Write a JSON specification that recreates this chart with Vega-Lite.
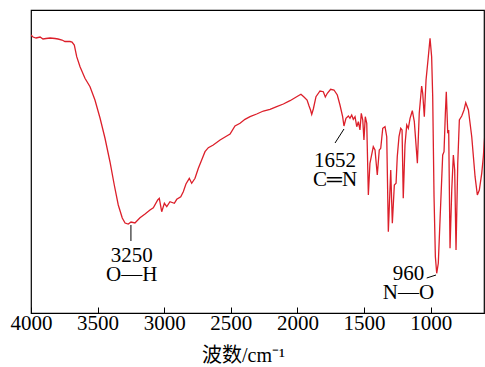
{
  "$schema": "https://vega.github.io/schema/vega-lite/v6.json",
  "autosize": {"type": "none"},
  "width": 453,
  "height": 303,
  "padding": {"left": 31, "top": 10, "right": 1, "bottom": 54},
  "config": {
    "view": {"stroke": "black", "strokeWidth": 1.2},
    "axis": {"grid": false}
  },
  "datasets": {
    "spectrum": [
      {"wn": 4000, "t": 278}, {"wn": 3985, "t": 276}, {"wn": 3962, "t": 275}, {"wn": 3932, "t": 276},
      {"wn": 3910, "t": 274}, {"wn": 3887, "t": 274.5}, {"wn": 3857, "t": 275}, {"wn": 3820, "t": 274.5},
      {"wn": 3797, "t": 274}, {"wn": 3767, "t": 273}, {"wn": 3745, "t": 271.5}, {"wn": 3707, "t": 271.5},
      {"wn": 3692, "t": 271}, {"wn": 3675, "t": 268}, {"wn": 3657, "t": 256.3}, {"wn": 3632, "t": 246.3},
      {"wn": 3595, "t": 234.7}, {"wn": 3557, "t": 226.3}, {"wn": 3520, "t": 213}, {"wn": 3482, "t": 195},
      {"wn": 3445, "t": 175}, {"wn": 3407, "t": 151}, {"wn": 3375, "t": 128}, {"wn": 3345, "t": 108},
      {"wn": 3315, "t": 95}, {"wn": 3294, "t": 90}, {"wn": 3270, "t": 89}, {"wn": 3249, "t": 91},
      {"wn": 3220, "t": 90}, {"wn": 3182, "t": 95.3}, {"wn": 3144, "t": 99}, {"wn": 3107, "t": 103},
      {"wn": 3082, "t": 105.3}, {"wn": 3049, "t": 113}, {"wn": 3037, "t": 114.7}, {"wn": 3019, "t": 101.3},
      {"wn": 2999, "t": 109.7}, {"wn": 2981, "t": 106.3}, {"wn": 2957, "t": 111.3}, {"wn": 2924, "t": 109.7},
      {"wn": 2906, "t": 113.7}, {"wn": 2876, "t": 116.3}, {"wn": 2857, "t": 121.3}, {"wn": 2837, "t": 129},
      {"wn": 2812, "t": 134.7}, {"wn": 2794, "t": 129.7}, {"wn": 2769, "t": 134.7}, {"wn": 2744, "t": 144.7},
      {"wn": 2719, "t": 153}, {"wn": 2694, "t": 161.3}, {"wn": 2669, "t": 165.3}, {"wn": 2632, "t": 168},
      {"wn": 2581, "t": 173}, {"wn": 2531, "t": 177}, {"wn": 2506, "t": 179}, {"wn": 2469, "t": 187},
      {"wn": 2431, "t": 189.7}, {"wn": 2394, "t": 193.7}, {"wn": 2356, "t": 196.3}, {"wn": 2306, "t": 199},
      {"wn": 2256, "t": 202}, {"wn": 2206, "t": 203.7}, {"wn": 2156, "t": 206.3}, {"wn": 2106, "t": 209},
      {"wn": 2056, "t": 212.3}, {"wn": 2006, "t": 216.3}, {"wn": 1974, "t": 218.7}, {"wn": 1951, "t": 216},
      {"wn": 1928, "t": 213}, {"wn": 1913, "t": 207}, {"wn": 1902, "t": 203}, {"wn": 1893, "t": 198.7},
      {"wn": 1881, "t": 204}, {"wn": 1861, "t": 216.3}, {"wn": 1831, "t": 222}, {"wn": 1806, "t": 221.3},
      {"wn": 1791, "t": 216}, {"wn": 1776, "t": 219.7}, {"wn": 1751, "t": 223.7}, {"wn": 1726, "t": 223},
      {"wn": 1701, "t": 218}, {"wn": 1681, "t": 208}, {"wn": 1661, "t": 196.3}, {"wn": 1651, "t": 187},
      {"wn": 1636, "t": 194.7}, {"wn": 1618, "t": 197}, {"wn": 1606, "t": 194.7}, {"wn": 1593, "t": 198},
      {"wn": 1581, "t": 193.7}, {"wn": 1568, "t": 196.3}, {"wn": 1555, "t": 186.3}, {"wn": 1543, "t": 191.3},
      {"wn": 1531, "t": 183}, {"wn": 1521, "t": 199.7}, {"wn": 1510, "t": 193}, {"wn": 1501, "t": 173},
      {"wn": 1491, "t": 196.3}, {"wn": 1480, "t": 189.7}, {"wn": 1468, "t": 118}, {"wn": 1456, "t": 149.7},
      {"wn": 1431, "t": 166.3}, {"wn": 1418, "t": 163}, {"wn": 1401, "t": 138}, {"wn": 1386, "t": 163},
      {"wn": 1375, "t": 164.7}, {"wn": 1360, "t": 184.7}, {"wn": 1343, "t": 186.3}, {"wn": 1330, "t": 176.3},
      {"wn": 1318, "t": 81.3}, {"wn": 1300, "t": 143}, {"wn": 1288, "t": 89.7}, {"wn": 1273, "t": 128},
      {"wn": 1260, "t": 129.7}, {"wn": 1251, "t": 156.3}, {"wn": 1238, "t": 176.3}, {"wn": 1225, "t": 184.7},
      {"wn": 1215, "t": 183}, {"wn": 1206, "t": 114.7}, {"wn": 1193, "t": 168}, {"wn": 1180, "t": 188},
      {"wn": 1168, "t": 184.7}, {"wn": 1155, "t": 194.7}, {"wn": 1138, "t": 202.3}, {"wn": 1123, "t": 191.3},
      {"wn": 1100, "t": 149.7}, {"wn": 1086, "t": 199.7}, {"wn": 1068, "t": 227}, {"wn": 1060, "t": 219.7},
      {"wn": 1048, "t": 196.3}, {"wn": 1035, "t": 233}, {"wn": 1018, "t": 256.3}, {"wn": 1005, "t": 274.7},
      {"wn": 993, "t": 256.3}, {"wn": 985, "t": 216.3}, {"wn": 975, "t": 116.3}, {"wn": 965, "t": 56.3},
      {"wn": 955, "t": 39.7}, {"wn": 943, "t": 49.7}, {"wn": 930, "t": 93}, {"wn": 910, "t": 158},
      {"wn": 900, "t": 161.3}, {"wn": 890, "t": 199.7}, {"wn": 883, "t": 221.3}, {"wn": 872, "t": 179.7},
      {"wn": 865, "t": 183}, {"wn": 855, "t": 64.7}, {"wn": 842, "t": 123}, {"wn": 830, "t": 158},
      {"wn": 820, "t": 143}, {"wn": 810, "t": 63}, {"wn": 797, "t": 149.7}, {"wn": 785, "t": 193},
      {"wn": 767, "t": 197}, {"wn": 750, "t": 203}, {"wn": 737, "t": 210.3}, {"wn": 717, "t": 203},
      {"wn": 692, "t": 176.3}, {"wn": 667, "t": 136.3}, {"wn": 650, "t": 118}, {"wn": 635, "t": 123},
      {"wn": 617, "t": 139.7}, {"wn": 605, "t": 156.3}, {"wn": 593, "t": 179.7}
    ],
    "labels": [
      {"wn": 3244, "t": 51, "label": ["3250", "O—H"]},
      {"wn": 1718, "t": 146, "label": ["1652", "C═N"]},
      {"wn": 1167, "t": 33, "label": ["960", "N—O"]}
    ],
    "leaders": [
      {"wn": 3250, "t": 88, "wn2": 3250, "t2": 72},
      {"wn": 1651, "t": 184, "wn2": 1718, "t2": 170},
      {"wn": 960, "t": 38, "wn2": 1030, "t2": 35}
    ]
  },
  "layer": [
    {
      "data": {"name": "spectrum"},
      "mark": {"type": "line", "color": "#dc1f2a", "strokeWidth": 1.3, "clip": true},
      "encoding": {
        "x": {
          "field": "wn", "type": "quantitative",
          "scale": {"domain": [600, 4000], "reverse": true, "nice": false, "zero": false},
          "axis": {
            "values": [4000, 3500, 3000, 2500, 2000, 1500, 1000],
            "format": "d",
            "title": "波数/cm⁻¹",
            "titleFont": "Liberation Serif, Noto Sans CJK SC",
            "titleFontSize": 20,
            "titleFontWeight": "normal",
            "titleColor": "black",
            "titleX": 212,
            "titleY": 48,
            "titleBaseline": "alphabetic",
            "titleAlign": "center",
            "labelFont": "Liberation Serif",
            "labelFontSize": 21,
            "labelColor": "black",
            "labelPadding": 5,
            "labelFlush": false,
            "labelOverlap": false,
            "tickSize": -6,
            "tickColor": "black",
            "tickWidth": 1,
            "domainColor": "black",
            "domainWidth": 1.2
          }
        },
        "y": {
          "field": "t", "type": "quantitative",
          "scale": {"domain": [0, 303], "nice": false, "zero": false},
          "axis": null
        }
      }
    },
    {
      "data": {"name": "leaders"},
      "mark": {"type": "rule", "color": "black", "strokeWidth": 1},
      "encoding": {
        "x": {"field": "wn", "type": "quantitative"},
        "x2": {"field": "wn2"},
        "y": {"field": "t", "type": "quantitative"},
        "y2": {"field": "t2"}
      }
    },
    {
      "data": {"name": "labels"},
      "mark": {"type": "text", "font": "Liberation Serif, Noto Sans CJK SC", "fontSize": 21, "lineHeight": 19, "color": "black", "align": "center", "baseline": "alphabetic"},
      "encoding": {
        "x": {"field": "wn", "type": "quantitative"},
        "y": {"field": "t", "type": "quantitative"},
        "text": {"field": "label"}
      }
    }
  ]
}
